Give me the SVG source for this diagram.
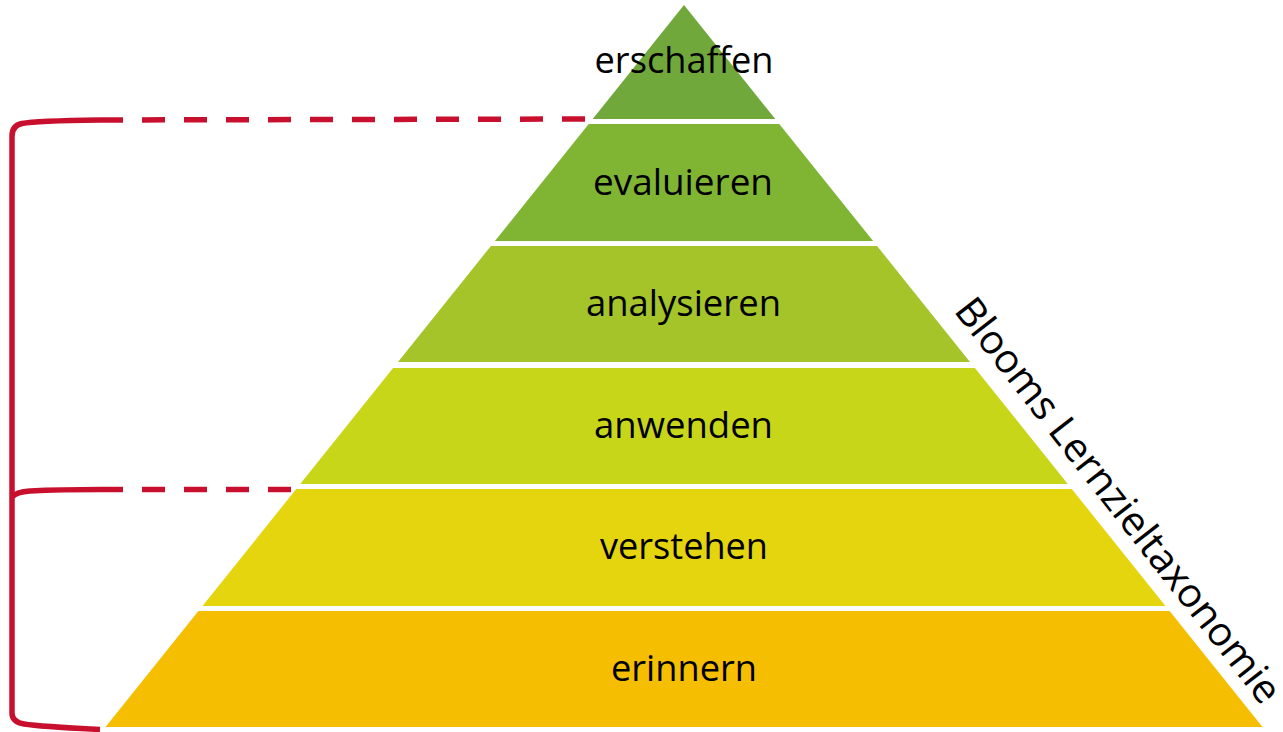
<svg xmlns="http://www.w3.org/2000/svg" width="1283" height="732" viewBox="0 0 1283 732">
<style>
.lbl{font-family:"Open Sans","Liberation Sans",sans-serif;font-size:37px;fill:#000;text-anchor:middle}
.side{font-family:"Open Sans","Liberation Sans",sans-serif;font-size:40px;fill:#000}
.br{fill:none;stroke:#C8102E;stroke-width:5.5;stroke-linecap:butt}
.dash{fill:none;stroke:#C8102E;stroke-width:5.5;stroke-dasharray:23 19}
</style>
<rect width="1283" height="732" fill="#fff"/>
<g id="connectors">
<path class="br" d="M100 120 C60 120.5 32 121.5 22 123.5 Q12 125.5 12 136 L12 713 Q12 722 24 724 C40 726.5 70 728 100 729.5"/>
<path class="br" d="M12 497 Q16 492 30 491 C50 490 75 489.5 100 489.5"/>
<path class="dash" d="M100 120 L586 119"/>
<path class="dash" d="M100 489.5 L292 489.5"/>
</g>
<g id="erschaffen">
<polygon points="684,5 775.3,119 592.7,119" fill="#70A83B"/>
<text class="lbl" x="684" y="73" textLength="179" lengthAdjust="spacingAndGlyphs">erschaffen</text>
</g>
<g id="evaluieren">
<polygon points="588.7,124 779.3,124 873.1,241 494.9,241" fill="#80B533"/>
<text class="lbl" x="683" y="194.5" textLength="180" lengthAdjust="spacingAndGlyphs">evaluieren</text>
</g>
<g id="analysieren">
<polygon points="490.9,246 877.1,246 970,362 398,362" fill="#A4C42A"/>
<text class="lbl" x="683.5" y="316" textLength="195" lengthAdjust="spacingAndGlyphs">analysieren</text>
</g>
<g id="anwenden">
<polygon points="393.1,368 974.9,368 1067.8,484 300.2,484" fill="#C8D619"/>
<text class="lbl" x="683.5" y="437.5" textLength="179" lengthAdjust="spacingAndGlyphs">anwenden</text>
</g>
<g id="verstehen">
<polygon points="296.2,489 1071.8,489 1165.5,606 202.5,606" fill="#E5D50E"/>
<text class="lbl" x="684" y="559" textLength="168" lengthAdjust="spacingAndGlyphs">verstehen</text>
</g>
<g id="erinnern">
<polygon points="198.4,611 1169.6,611 1262.5,727 105.5,727" fill="#F6BE00"/>
<text class="lbl" x="684" y="680.5" textLength="146" lengthAdjust="spacingAndGlyphs">erinnern</text>
</g>
<g id="title">
<text class="side" transform="translate(953 311) rotate(52)" x="0" y="0" textLength="502" lengthAdjust="spacingAndGlyphs">Blooms Lernzieltaxonomie</text>
</g>
</svg>
